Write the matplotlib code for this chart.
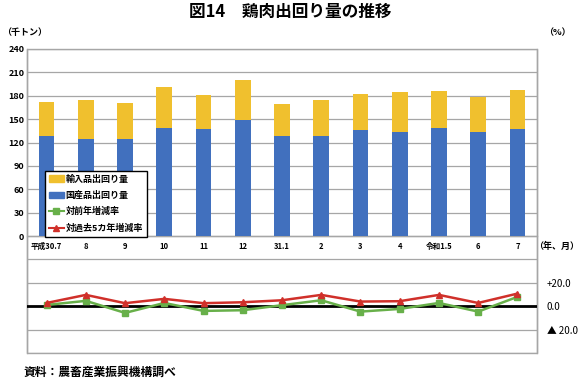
import matplotlib
matplotlib.use("Agg")
import matplotlib.pyplot as plt
import numpy as np
from matplotlib.lines import Line2D
from matplotlib.patches import Patch, Rectangle

plt.rcParams['font.family'] = ['Noto Sans CJK JP', 'DejaVu Sans']

categories = ['平成30.7', '8', '9', '10', '11', '12', '31.1', '2', '3', '4', '令和1.5', '6', '7']
domestic = [129, 124, 124, 139, 137, 149, 129, 129, 136, 134, 139, 134, 138]
total = [172, 175, 171, 191, 181, 200, 170, 175, 182, 185, 186, 179, 188]
imports = [t - d for t, d in zip(total, domestic)]
yoy = [1.1, 4.6, -5.7, 2.8, -4.0, -3.4, 0.9, 5.1, -4.6, -2.3, 2.8, -4.6, 8.0]
vs5y = [2.8, 9.7, 2.6, 6.3, 2.6, 3.4, 5.1, 9.7, 4.0, 4.3, 9.7, 2.8, 10.8]

C_YEL = '#F0C02E'
C_BLU = '#4170BE'
C_GRN = '#68B04A'
C_RED = '#D0302A'
GRID = '#A6A6A6'

fig = plt.figure(figsize=(5.8, 3.79), dpi=100)
ax = fig.add_axes([27/580, 1-353/379, (537-27)/580, (353-49)/379])
x = np.arange(len(categories))
ax.bar(x, domestic, width=0.4, color=C_BLU, zorder=3)
ax.bar(x, imports, bottom=domestic, width=0.4, color=C_YEL, zorder=3)
ax.set_xlim(-0.5, len(categories) - 0.5)
ax.set_ylim(-150, 240)
ticks = np.arange(-150, 241, 30)
ax.set_yticks(ticks)
ax.set_yticklabels([str(t) if t >= 0 else '' for t in ticks], fontsize=6.5, fontweight='bold')
ax.yaxis.grid(True, color=GRID, linewidth=0.9, zorder=0)
ax.tick_params(axis='y', length=0, pad=2)
ax.spines['bottom'].set_position(('data', 0))
ax.set_xticks(x)
ax.set_xticklabels(categories)
ax.tick_params(axis='x', length=0, pad=4, labelsize=5.5)
for lbl in ax.get_xticklabels():
    lbl.set_fontweight('bold')
for s in ['left', 'right', 'bottom']:
    ax.spines[s].set_color(GRID)
    ax.spines[s].set_linewidth(1.0)
ax.spines['top'].set_visible(False)

ax2 = ax.twinx()
ax2.set_ylim(-40, 220)
ax2.axhline(0, color='black', linewidth=2, zorder=2)
ax2.plot(x, yoy, color=C_GRN, linewidth=1.8, marker='s', markersize=4.5, zorder=4)
ax2.plot(x, vs5y, color=C_RED, linewidth=1.8, marker='^', markersize=4.5, zorder=5)
ax2.set_yticks([20, 0, -20])
ax2.set_yticklabels(['+20.0', '0.0', '▲ 20.0'], fontsize=7)
ax2.tick_params(axis='y', length=0, pad=7)
for s in ['left', 'bottom', 'top', 'right']:
    ax2.spines[s].set_visible(False)
ax2.add_patch(Rectangle((0, 0), 1, 1, transform=ax2.transAxes, fill=False,
                        edgecolor=GRID, linewidth=1.0, clip_on=False, zorder=1))

handles = [Patch(color=C_YEL, label='輸入品出回り量'),
           Patch(color=C_BLU, label='国産品出回り量'),
           Line2D([], [], color=C_GRN, marker='s', markersize=4, linewidth=1.5, label='対前年増減率'),
           Line2D([], [], color=C_RED, marker='^', markersize=4, linewidth=1.5, label='対過去5カ年増減率')]
leg = ax2.legend(handles=handles, loc='lower left', bbox_to_anchor=(45/580, 1-237/379, 102/580, 67/379),
                 bbox_transform=fig.transFigure, mode='expand', fancybox=False, framealpha=1,
                 edgecolor='black', prop={'size': 6.5, 'weight': 'bold'}, handlelength=1.6,
                 handletextpad=0.25, labelspacing=0.8, borderpad=0.45, borderaxespad=0)
leg.get_frame().set_linewidth(1.0)
leg.set_zorder(10)

fig.text(290/580, 1-12/379, '図14　鶏肉出回り量の推移', ha='center', va='center', fontsize=12, fontweight='bold')
fig.text(2/580, 1-33/379, '（千トン）', ha='left', va='center', fontsize=6.5, fontweight='bold')
fig.text(544/580, 1-33/379, '（%）', ha='left', va='center', fontsize=6.5, fontweight='bold')
fig.text(579/580, 1-246/379, '（年、月）', ha='right', va='center', fontsize=6.5, fontweight='bold')
fig.text(24/580, 1-372/379, '資料：農畜産業振興機構調べ', ha='left', va='center', fontsize=8.5, fontweight='bold')

fig.savefig('out.png', dpi=100)
